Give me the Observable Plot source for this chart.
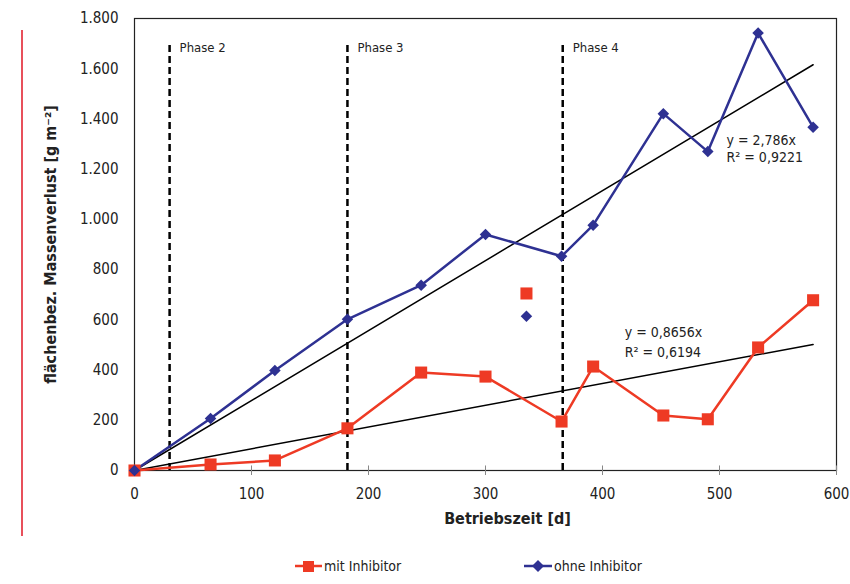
<!DOCTYPE html>
<html><head><meta charset="utf-8">
<script src="https://cdn.jsdelivr.net/npm/d3@7"></script>
<script src="https://cdn.jsdelivr.net/npm/@observablehq/plot@0.6"></script>
<style>
body{margin:0;background:#fff;font-family:"DejaVu Sans Condensed","DejaVu Sans",sans-serif;font-stretch:condensed;}
#wrap{position:relative;width:850px;height:584px;}
#redline{position:absolute;left:21px;top:30px;width:2px;height:506px;background:#e8505b;}
#legend{position:absolute;top:558px;left:0;width:850px;height:22px;font-size:14px;color:#222;}
.li{position:absolute;display:flex;align-items:center;}
.li svg{margin-right:2px;}
svg text{font-stretch:condensed;}
</style></head>
<body><div id="wrap"><div id="redline"></div><div id="chart"></div>
<div id="legend">
<div class="li" style="left:295px"><svg width="27" height="14"><line x1="0" y1="7" x2="27" y2="7" stroke="#ee3a24" stroke-width="2.5"/><rect x="8" y="2" width="11" height="11" fill="#ee3a24"/></svg>mit Inhibitor</div>
<div class="li" style="left:524px"><svg width="28" height="14"><line x1="0" y1="7" x2="28" y2="7" stroke="#2e3192" stroke-width="2.5"/><path d="M14 1L20 7L14 13L8 7Z" fill="#2e3192"/></svg>ohne Inhibitor</div>
</div></div>
<script>
const days = [0, 65, 120, 182, 245, 300, 365, 392, 452, 490, 533, 580];
const mitInhibitor = [0, 24, 40, 168, 390, 374, 195, 414, 219, 204, 490, 678];
const ohneInhibitor = [0, 207, 398, 602, 738, 940, 853, 977, 1421, 1270, 1742, 1367];
const outlierDay = 335;
const outlierMit = 705;
const outlierOhne = 614;
const phaseDays = [30, 182, 366];
const phaseNames = ["Phase 2", "Phase 3", "Phase 4"];
const slopeOhne = 2.786, slopeMit = 0.8656;
const trendEnd = 580;
const xTicks = [0, 100, 200, 300, 400, 500, 600];
const yTicks = [0, 200, 400, 600, 800, 1000, 1200, 1400, 1600, 1800];

const red = "#ee3a24", blue = "#2e3192";
const mit = days.map((d,i)=>({x:d,y:mitInhibitor[i]}));
const ohne = days.map((d,i)=>({x:d,y:ohneInhibitor[i]}));
const phases = phaseDays.map((d,i)=>({x:d,name:phaseNames[i]}));
const trends = [
  {x:0,y:0,s:"ohne"},{x:trendEnd,y:slopeOhne*trendEnd,s:"ohne"},
  {x:0,y:0,s:"mit"},{x:trendEnd,y:slopeMit*trendEnd,s:"mit"}
];
const fmt = d => d3.format(",")(d).replace(/,/g,".");

const chart = Plot.plot({
  width: 850, height: 545,
  marginLeft: 134, marginRight: 14, marginTop: 18, marginBottom: 75,
  style: {fontFamily: '"DejaVu Sans Condensed","DejaVu Sans",sans-serif', fontSize: "15px", color: "#222"},
  x: {domain: [0, 600], label: null},
  y: {domain: [0, 1800], label: null},
  marks: [
    Plot.frame({stroke: "#222", strokeWidth: 1.2}),
    Plot.ruleX(xTicks, {x: d=>d, y1: 0, y2: 18, stroke:"#888"}),
    Plot.axisX({ticks: xTicks, tickSize: 5, tickPadding: 13, fontSize: 15, stroke:"#888"}),
    Plot.axisY({ticks: yTicks, tickFormat: fmt, tickSize: 0, tickPadding: 16, fontSize: 15}),
    Plot.ruleX(phases, {x:"x", y1:0, y2:1700, stroke:"#000", strokeWidth:2.5, strokeDasharray:"7,4"}),
    Plot.text(phases, {x:"x", y:1700, text:"name", dx:10, dy:4, textAnchor:"start", fontSize:13}),
    Plot.line(trends, {x:"x", y:"y", z:"s", stroke:"#000", strokeWidth:1.5}),
    Plot.line(mit, {x:"x", y:"y", stroke:red, strokeWidth:2.5}),
    Plot.line(ohne, {x:"x", y:"y", stroke:blue, strokeWidth:2.5}),
    Plot.dot(mit, {x:"x", y:"y", symbol:"square", r:6.8, fill:red}),
    Plot.dot(ohne, {x:"x", y:"y", symbol:"diamond2", r:5.2, fill:blue}),
    Plot.dot([{x:outlierDay,y:outlierMit}], {x:"x", y:"y", symbol:"square", r:6.8, fill:red}),
    Plot.dot([{x:outlierDay,y:outlierOhne}], {x:"x", y:"y", symbol:"diamond2", r:5.2, fill:blue}),
    Plot.text([{x:506,y:1315,t:"y = 2,786x"},{x:506,y:1248,t:"R² = 0,9221"}], {x:"x",y:"y",text:"t",textAnchor:"start",fontSize:14}),
    Plot.text([{x:419,y:551,t:"y = 0,8656x"},{x:419,y:468,t:"R² = 0,6194"}], {x:"x",y:"y",text:"t",textAnchor:"start",fontSize:14}),
    Plot.text(["Betriebszeit [d]"], {frameAnchor:"bottom", dx:22, dy:53, text:d=>d, fontSize:16, fontWeight:"bold"}),
    Plot.text(["flächenbez. Massenverlust [g m⁻²]"], {frameAnchor:"left", dx:-84, rotate:-90, textAnchor:"middle", text:d=>d, fontSize:16, fontWeight:"bold"})
  ]
});
document.getElementById("chart").appendChild(chart);
</script></body></html>
